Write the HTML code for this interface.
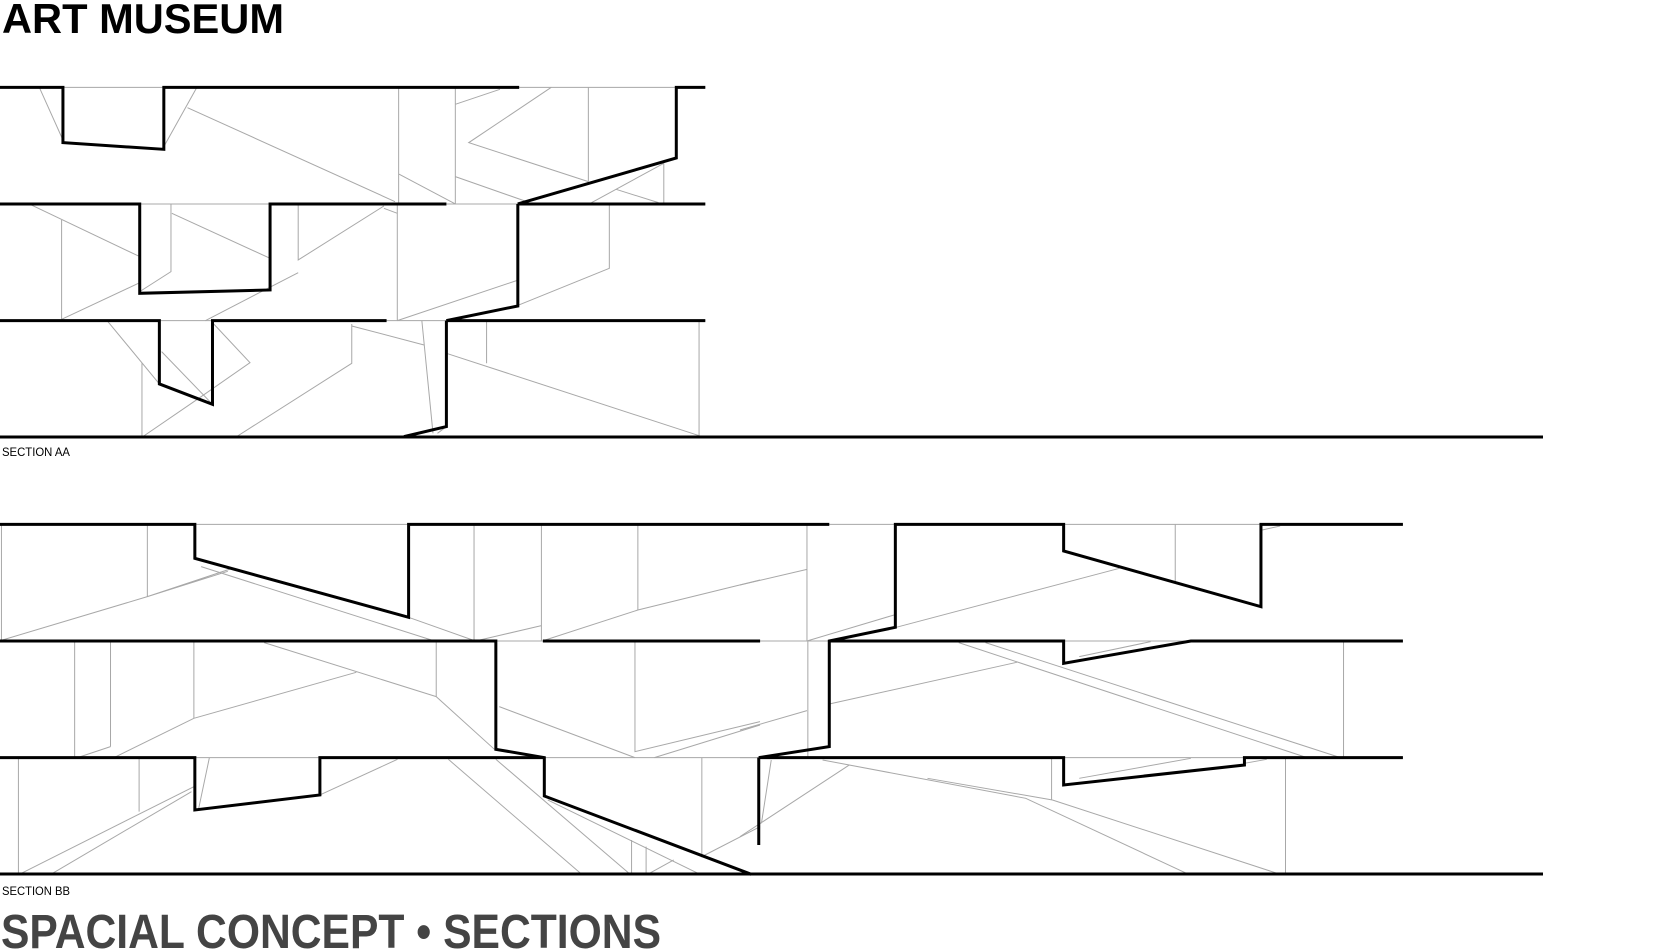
<!DOCTYPE html>
<html><head><meta charset="utf-8"><style>
html,body{margin:0;padding:0;background:#fff;}
svg{display:block}
.t{fill:none;stroke:#000;stroke-width:3;stroke-linejoin:miter;vector-effect:non-scaling-stroke}
.g{fill:none;stroke:#a8a8a8;stroke-width:1;vector-effect:non-scaling-stroke}
</style></head><body>
<svg width="1680" height="950" viewBox="0 0 1680 950" xmlns="http://www.w3.org/2000/svg">
<text x="2" y="33" font-family="Liberation Sans, sans-serif" font-weight="bold" font-size="42" textLength="282" lengthAdjust="spacingAndGlyphs" fill="#000">ART MUSEUM</text>

<!-- SECTION AA -->
<g transform="scale(0.4464,0.3333)">
<path class="g" d="M0,262H1580M0,612H1580M0,962H1580"/>
<path class="g" d="M88,262L141,420M441,262L367,440M420,323L885,605M893,262V612M893,522L1020,612M1020,262V612M1020,313L1120,268M1235,262L1050,428L1318,545M1318,262V545M1020,530L1180,605M1380,568L1475,608M1487,490L1325,608M1487,490V608
M70,615L310,768M138,660V958M138,958L310,850M383,612V815L313,875M385,640L605,775M668,612V780L860,618M668,818L460,962M860,625L890,640M890,612V962M890,962L1157,842M1365,612V805L1157,918
M240,962L357,1152M362,1055L476,1213M476,968L560,1088L440,1200L320,1310M318,1090V1310M530,1310L788,1090V972M788,978L950,1035M945,962L970,1300M1000,1060L1568,1308M1090,962V1090M980,1300L1000,1280M1566,962V1310"/>
<path class="t" d="M0,262H141V428L367,448V262H1163"/>
<path class="t" d="M1580,262H1515V474L1160,612H1580"/>
<path class="t" d="M0,612H313V880L605,870V612H1000"/>
<path class="t" d="M1160,612V918L1000,962H1580"/>
<path class="t" d="M0,962H357V1152L476,1213V962H866"/>
<path class="t" d="M1000,962V1280L905,1310"/>
</g>
<line x1="0" y1="437" x2="1543" y2="437" stroke="#000" stroke-width="3"/>
<text x="2" y="456" font-family="Liberation Sans, sans-serif" font-size="11.5" textLength="68" lengthAdjust="spacingAndGlyphs" fill="#000">SECTION AA</text>

<!-- SECTION BB left -->
<g transform="translate(0,500) scale(0.4847,0.3333)">
<path class="g" d="M0,73H1568M0,423H1568M0,773H1568"/>
<path class="g" d="M3,73V423M304,73V290M5,420L304,290L475,207M304,290L470,214M415,200L890,420M843,352L975,420M978,73V420M990,420L1117,377M1117,73V423M1316,73V330M1125,420L1316,330L1568,240
M154,423V773M228,423V740M160,773L228,740M400,423V655M235,773L400,655L735,517M545,428L900,590M900,423V590L1020,748M1030,620L1310,773M1310,423V755L1568,665M1350,773L1568,675
M38,773V1123M40,1123L400,860M105,1123L395,875M287,773V935M432,773L410,925M660,885L820,778M925,778L1200,1123M1023,778L1300,1123M1130,900L1440,1120M1303,1020V1123M1333,1040V1123M1340,1120L1390,1080M1448,773V1070L1568,980"/>
<path class="t" d="M0,73H402V175L843,352V73H1568"/>
<path class="t" d="M0,423H1023V748L1123,773V888L1550,1123"/>
<path class="t" d="M1120,423H1568"/>
<path class="t" d="M0,773H402V930L660,885V773H1123"/>
</g>
<!-- SECTION BB right -->
<g transform="translate(740,500) scale(0.4464,0.3333)">
<path class="g" d="M0,73H1485M0,423H1485M0,773H1485"/>
<path class="g" d="M0,255L150,208M150,73V423M150,423L345,345M350,382L850,205M975,73V245M1170,90L1210,78
M152,423V773M0,690L150,632M200,612L620,487M490,428L1270,773M550,428L1345,773M760,470L920,425M1352,423V773
M70,780L48,970M0,1010L245,795M185,780L640,895L1005,1123M420,835L700,900L1210,1123M698,773V900M760,835L1010,775M1130,790L1180,778M1222,773V1123"/>
<path class="t" d="M0,73H200"/>
<path class="t" d="M0,423H45"/>
<path class="t" d="M1485,73H1167V320L725,153V73H348V382L200,423V740L42,773H725V855L1130,795V773H1485"/>
<path class="t" d="M200,423H725V490L1010,423H1485"/>
<path class="t" d="M42,773V1035"/>
</g>
<line x1="0" y1="874" x2="1543" y2="874" stroke="#000" stroke-width="3"/>
<text x="2" y="895" font-family="Liberation Sans, sans-serif" font-size="11.5" textLength="68" lengthAdjust="spacingAndGlyphs" fill="#000">SECTION BB</text>
<text x="1" y="948" font-family="Liberation Sans, sans-serif" font-weight="bold" font-size="48" textLength="660" lengthAdjust="spacingAndGlyphs" fill="#444">SPACIAL CONCEPT • SECTIONS</text>
</svg>
</body></html>
